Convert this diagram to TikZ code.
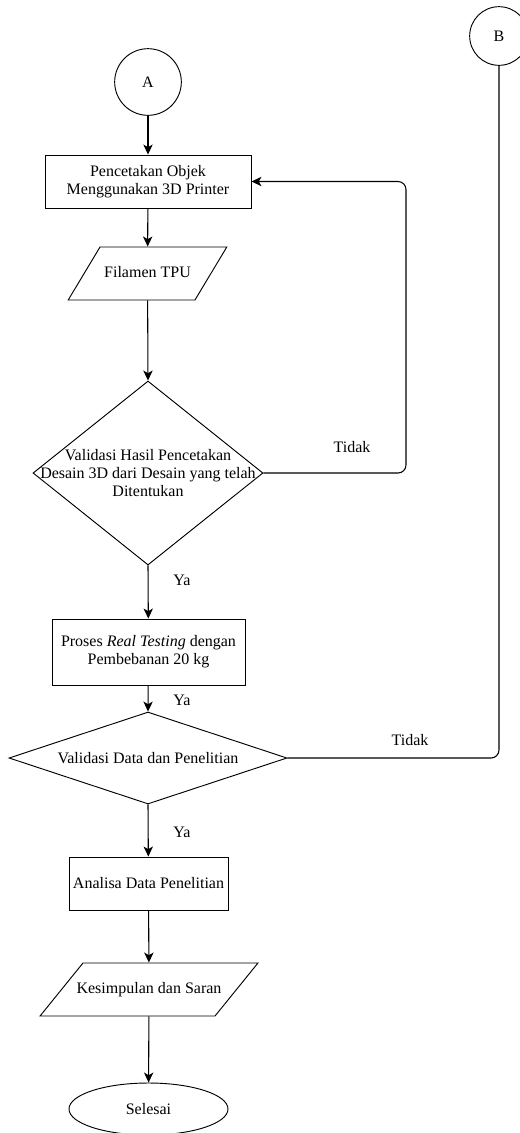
\documentclass[tikz,border=0pt]{standalone}
\usepackage{fontspec}
\setmainfont{Liberation Serif}
\usepackage{tikz}
\usetikzlibrary{shapes.geometric}
\usetikzlibrary{arrows.meta}

\begin{document}
\begin{tikzpicture}[x=0.75pt, y=-0.75pt, font=\fontsize{12}{13.5}\selectfont,
    garis/.style={line width=0.8pt},
    panah/.style={garis, -{Stealth[length=7.5pt,width=7pt,inset=2pt]}},
    konektor/.style={draw, circle, line width=0.7pt, inner sep=0pt},
    proses/.style={draw, rectangle, align=center, line width=0.7pt, inner sep=0pt},
    data/.style={draw, trapezium, line width=0.7pt, text height=8.5pt, text depth=2.5pt, inner ysep=14.375pt},
    keputusan/.style={draw, diamond, line width=0.7pt, inner sep=0pt},
    akhir/.style={draw, ellipse, line width=0.7pt, inner sep=0pt}]
    \useasboundingbox (0,0) rectangle (520,1133);
    \node[konektor, minimum size=50pt] (A) at (148,82) {A};
    \node[konektor, minimum size=44pt] (B) at (499,36) {B};
    \node[proses, minimum width=154.5pt, minimum height=39.75pt] (cetak) at (148,181.5)
        {Pencetakan Objek\\Menggunakan 3D Printer};
    \node[data, trapezium left angle=59, trapezium right angle=121, inner xsep=3.1pt]
        (filamen) at (147.5,273.5) {Filamen TPU};
    \node[keputusan, minimum width=172.5pt, minimum height=138pt] (val1) at (148,473) {};
    \node[align=center] (val1txt) at (val1) {Validasi Hasil Pencetakan\\Desain 3D dari Desain yang telah\\Ditentukan};
    \node[proses, minimum width=144.75pt, minimum height=49.5pt] (uji) at (148.5,652)
        {Proses \textit{Real Testing} dengan\\Pembebanan 20 kg};
    \node[keputusan, minimum width=208.5pt, minimum height=69pt] (val2) at (148,758) {};
    \node (val2txt) at (val2) {Validasi Data dan Penelitian};
    \node[proses, minimum width=119.25pt, minimum height=39.75pt] (analisa) at (148.5,883.5)
        {Analisa Data Penelitian};
    \node[data, trapezium left angle=51, trapezium right angle=129, inner xsep=-4.8pt]
        (simpul) at (149,989.5) {Kesimpulan dan Saran};
    \node[akhir, minimum width=119.25pt, minimum height=39pt] (selesai) at (148.5,1109) {Selesai};
    \coordinate (balik) at (406,181.5);

    \draw[panah] (A) -- (cetak);
    \draw[panah] (cetak) -- (filamen);
    \draw[panah] (filamen) -- (val1.north);
    \draw[panah, rounded corners=6pt] (val1.east) -| (balik) -- (cetak.east);
    \draw[panah] (val1.south) -- (uji);
    \draw[panah] (uji) -- (val2.north);
    \draw[garis, rounded corners=6pt] (B) |- (val2.east);
    \draw[panah] (val2.south) -- (analisa);
    \draw[panah] (analisa) -- (simpul);
    \draw[panah] (simpul) -- (selesai);

    \node (tidak1) at (352,447) {Tidak};
    \node (tidak2) at (410,740) {Tidak};
    \node (ya1) at (182,580) {Ya};
    \node (ya2) at (182,700) {Ya};
    \node (ya3) at (182,832) {Ya};
\end{tikzpicture}
\end{document}
